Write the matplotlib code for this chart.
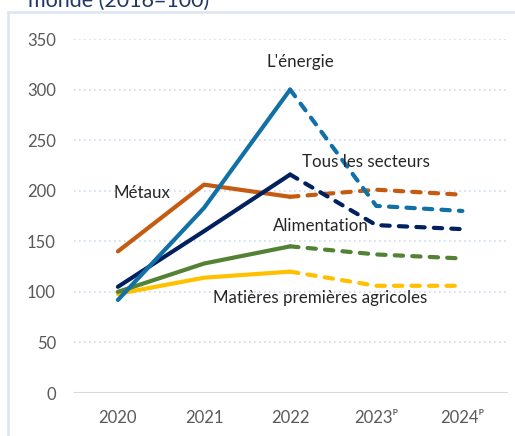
import matplotlib
matplotlib.use("Agg")
import matplotlib.pyplot as plt
from matplotlib.lines import Line2D

plt.rcParams['font.family'] = ['Lato', 'DejaVu Sans']

years = ["2020", "2021", "2022", "2023\u1D3E", "2024\u1D3E"]
energie = [92, 183, 300, 185, 180]
metaux = [140, 206, 194, 201, 196]
tous = [105, 160, 216, 166, 162]
alimentation = [100, 128, 145, 137, 133]
agricoles = [98, 114, 120, 106, 106]

series = [
    ("L'énergie", energie, "#1170A6"),
    ("Métaux", metaux, "#C55A11"),
    ("Tous les secteurs", tous, "#002060"),
    ("Alimentation", alimentation, "#548235"),
    ("Matières premières agricoles", agricoles, "#FFC000"),
]

W, H = 515, 436
fig = plt.figure(figsize=(W / 100, H / 100), dpi=100)
ax = fig.add_axes([74 / W, (H - 393) / H, (508 - 74) / W, (393 - 39) / H])

x = list(range(len(years)))
order = [4, 3, 1, 2, 0]
for i in order:
    name, vals, col = series[i]
    ax.plot(x[:3], vals[:3], color=col, lw=3, solid_capstyle='round',
            solid_joinstyle='round', zorder=3)
    ax.plot(x[2:], vals[2:], color=col, lw=3, linestyle=(0, (2.0, 2.2)),
            dash_capstyle='round', dash_joinstyle='round', zorder=3)

ax.set_xlim(-0.51, 4.53)
ax.set_ylim(0, 350)
ax.set_yticks(range(0, 351, 50))
ax.set_xticks(x)
ax.set_xticklabels(years)
for s in ax.spines.values():
    s.set_visible(False)
ax.tick_params(length=0, labelsize=12, colors="#595959", pad=0)
ax.tick_params(axis='y', pad=13)
ax.tick_params(axis='x', pad=12)
for yv in range(50, 351, 50):
    ax.axhline(yv, color="#CCDBEF", lw=1.2, linestyle=(0, (1, 2)), zorder=1)
ax.axhline(0, color="#D9D9D9", lw=1.5, zorder=1)

lab_kw = dict(fontsize=12.2, color="#262626", zorder=5)
ax.text(2.116, 327, "L'énergie", ha='center', va='center', **lab_kw)
ax.text(2.136, 228, "Tous les secteurs", ha='left', va='center', **lab_kw)
ax.text(-0.055, 198, "Métaux", ha='left', va='center', **lab_kw)
ax.text(1.80, 165, "Alimentation", ha='left', va='center', **lab_kw)
ax.text(1.105, 94, "Matières premières agricoles", ha='left', va='center', **lab_kw)

# frame
fc = "#DAE5F4"
fig.add_artist(Line2D([8 / W, 1.0], [(H - 12.5) / H] * 2, color=fc, lw=1.8,
                      transform=fig.transFigure))
fig.add_artist(Line2D([8 / W] * 2, [(H - 12.5) / H, 0], color=fc, lw=1.8,
                      transform=fig.transFigure))

fig.text(28 / W, (H - 7) / H, "monde (2016=100)", fontsize=15.5,
         color="#1F3864", ha='left', va='baseline')

fig.savefig("out.png", dpi=100)
